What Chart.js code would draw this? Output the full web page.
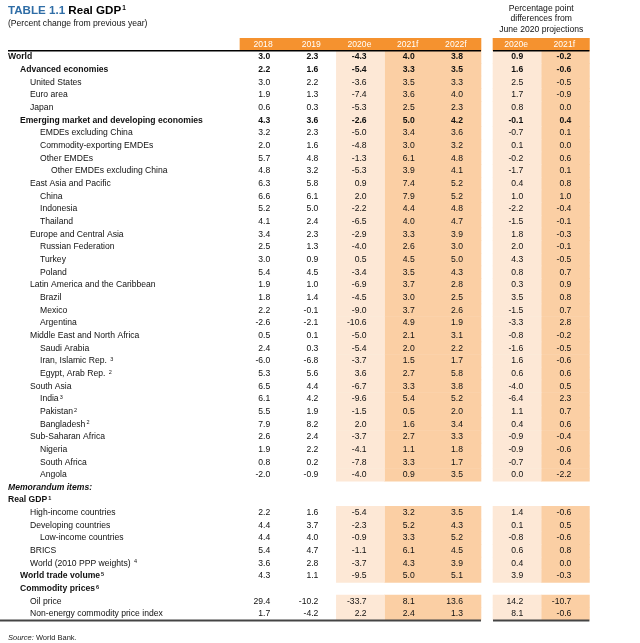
<!DOCTYPE html>
<html>
<head>
<meta charset="utf-8">
<script src="https://cdn.jsdelivr.net/npm/chart.js@4"></script>
<style>
  html, body { margin: 0; padding: 0; background: #fff; }
  #wrap { position: relative; width: 640px; height: 643px; }
</style>
</head>
<body>
<div id="wrap"><canvas id="grafico"></canvas></div>
<script>
// Row labels of the table
const labels = [
  'World', 'Advanced economies', 'United States', 'Euro area', 'Japan',
  'Emerging market and developing economies', 'EMDEs excluding China', 'Commodity-exporting EMDEs',
  'Other EMDEs', 'Other EMDEs excluding China', 'East Asia and Pacific', 'China', 'Indonesia', 'Thailand',
  'Europe and Central Asia', 'Russian Federation', 'Turkey', 'Poland',
  'Latin America and the Caribbean', 'Brazil', 'Mexico', 'Argentina',
  'Middle East and North Africa', 'Saudi Arabia', 'Iran, Islamic Rep. ', 'Egypt, Arab Rep. ',
  'South Asia', 'India', 'Pakistan', 'Bangladesh',
  'Sub-Saharan Africa', 'Nigeria', 'South Africa', 'Angola',
  'Memorandum items:', 'Real GDP', 'High-income countries', 'Developing countries', 'Low-income countries',
  'BRICS', 'World (2010 PPP weights) ', 'World trade volume', 'Commodity prices', 'Oil price',
  'Non-energy commodity price index'
];
// footnote numbers after the label
const notes = [
  '', '', '', '', '', '', '', '', '', '', '', '', '', '', '', '', '', '', '', '', '', '', '', '',
  '3', '2', '', '3', '2', '2', '', '', '', '', '', '1', '', '', '', '', '4', '5', '6', '', ''
];
// indent level of each row
const levels = [
  0, 1, 2, 2, 2, 1, 3, 3, 3, 4, 2, 3, 3, 3, 2, 3, 3, 3, 2, 3, 3, 3, 2, 3, 3, 3,
  2, 3, 3, 3, 2, 3, 3, 3, 0, 0, 2, 2, 3, 2, 2, 1, 1, 2, 2
];
// b = bold, bi = bold italic
const weights = labels.map((l, i) => (i === 34 ? 'bi' : [0, 1, 5, 35, 41, 42].includes(i) ? 'b' : ''));
const boldValues = [0, 1, 5];

const columns = ['2018', '2019', '2020e', '2021f', '2022f', '2020e', '2021f'];

const v2018 = [3.0, 2.2, 3.0, 1.9, 0.6, 4.3, 3.2, 2.0, 5.7, 4.8, 6.3, 6.6, 5.2, 4.1, 3.4, 2.5, 3.0, 5.4, 1.9, 1.8, 2.2, -2.6, 0.5, 2.4, -6.0, 5.3, 6.5, 6.1, 5.5, 7.9, 2.6, 1.9, 0.8, -2.0, null, null, 2.2, 4.4, 4.4, 5.4, 3.6, 4.3, null, 29.4, 1.7];
const v2019 = [2.3, 1.6, 2.2, 1.3, 0.3, 3.6, 2.3, 1.6, 4.8, 3.2, 5.8, 6.1, 5.0, 2.4, 2.3, 1.3, 0.9, 4.5, 1.0, 1.4, -0.1, -2.1, 0.1, 0.3, -6.8, 5.6, 4.4, 4.2, 1.9, 8.2, 2.4, 2.2, 0.2, -0.9, null, null, 1.6, 3.7, 4.0, 4.7, 2.8, 1.1, null, -10.2, -4.2];
const v2020e = [-4.3, -5.4, -3.6, -7.4, -5.3, -2.6, -5.0, -4.8, -1.3, -5.3, 0.9, 2.0, -2.2, -6.5, -2.9, -4.0, 0.5, -3.4, -6.9, -4.5, -9.0, -10.6, -5.0, -5.4, -3.7, 3.6, -6.7, -9.6, -1.5, 2.0, -3.7, -4.1, -7.8, -4.0, null, null, -5.4, -2.3, -0.9, -1.1, -3.7, -9.5, null, -33.7, 2.2];
const v2021f = [4.0, 3.3, 3.5, 3.6, 2.5, 5.0, 3.4, 3.0, 6.1, 3.9, 7.4, 7.9, 4.4, 4.0, 3.3, 2.6, 4.5, 3.5, 3.7, 3.0, 3.7, 4.9, 2.1, 2.0, 1.5, 2.7, 3.3, 5.4, 0.5, 1.6, 2.7, 1.1, 3.3, 0.9, null, null, 3.2, 5.2, 3.3, 6.1, 4.3, 5.0, null, 8.1, 2.4];
const v2022f = [3.8, 3.5, 3.3, 4.0, 2.3, 4.2, 3.6, 3.2, 4.8, 4.1, 5.2, 5.2, 4.8, 4.7, 3.9, 3.0, 5.0, 4.3, 2.8, 2.5, 2.6, 1.9, 3.1, 2.2, 1.7, 5.8, 3.8, 5.2, 2.0, 3.4, 3.3, 1.8, 1.7, 3.5, null, null, 3.5, 4.3, 5.2, 4.5, 3.9, 5.1, null, 13.6, 1.3];
const d2020e = [0.9, 1.6, 2.5, 1.7, 0.8, -0.1, -0.7, 0.1, -0.2, -1.7, 0.4, 1.0, -2.2, -1.5, 1.8, 2.0, 4.3, 0.8, 0.3, 3.5, -1.5, -3.3, -0.8, -1.6, 1.6, 0.6, -4.0, -6.4, 1.1, 0.4, -0.9, -0.9, -0.7, 0.0, null, null, 1.4, 0.1, -0.8, 0.6, 0.4, 3.9, null, 14.2, 8.1];
const d2021f = [-0.2, -0.6, -0.5, -0.9, 0.0, 0.4, 0.1, 0.0, 0.6, 0.1, 0.8, 1.0, -0.4, -0.1, -0.3, -0.1, -0.5, 0.7, 0.9, 0.8, 0.7, 2.8, -0.2, -0.5, -0.6, 0.6, 0.5, 2.3, 0.7, 0.6, -0.4, -0.6, 0.4, -2.2, null, null, -0.6, 0.5, -0.6, 0.8, 0.0, -0.3, null, -10.7, -0.6];

const series = [v2018, v2019, v2020e, v2021f, v2022f, d2020e, d2021f];

// column layout in x-scale units (one unit = one column)
const colStart = [0, 1, 2, 3, 4, 5.25, 6.25];
const xMin = -4.98, xMax = 8.3;
const indentPx = [0, 12, 22, 32, 43];

const FONT = '"Liberation Sans", Arial, sans-serif';
const SIZE = '8.6px ';
const ORANGE = '#f5922f';
const LIGHT = '#fde8d6';
const DARK = '#fbcfa4';

// first category is the header row
const cats = ['header'].concat(labels);
const hasData = i => v2020e[i] !== null;
function band(range, header) {
  return cats.map((c, j) => (j === 0 ? (header ? range : null) : (!header && hasData(j - 1) ? range : null)));
}
function ds(data, color) {
  return { data, backgroundColor: color, grouped: false, barPercentage: 1, categoryPercentage: 1, borderWidth: 0 };
}

const tableText = {
  id: 'tableText',
  afterDatasetsDraw(chart) {
    const { ctx, scales: { x, y } } = chart;
    ctx.save();
    ctx.textBaseline = 'middle';

    // title
    ctx.textAlign = 'left';
    ctx.font = 'bold 11.6px ' + FONT;
    ctx.fillStyle = '#2f6da6';
    ctx.fillText('TABLE 1.1 ', 8, 11);
    let tx = 8 + ctx.measureText('TABLE 1.1 ').width;
    ctx.fillStyle = '#000';
    ctx.fillText('Real GDP', tx, 11);
    tx += ctx.measureText('Real GDP').width + 1;
    ctx.font = 'bold 6.5px ' + FONT;
    ctx.fillText('1', tx, 8.5);
    ctx.font = SIZE + FONT;
    ctx.fillStyle = '#111';
    ctx.fillText('(Percent change from previous year)', 8, 24);

    // right header
    ctx.textAlign = 'center';
    const rc = x.getPixelForValue(colStart[5] + 1);
    ['Percentage point', 'differences from', 'June 2020 projections'].forEach((t, k) => {
      ctx.fillText(t, rc, 8.5 + k * 10.5);
    });

    // column headers
    ctx.fillStyle = '#fff';
    ctx.font = SIZE + FONT;
    columns.forEach((t, k) => ctx.fillText(t, x.getPixelForValue(colStart[k] + 0.5) - 1, y.getPixelForValue(0)));

    // rows
    labels.forEach((lab, i) => {
      const py = y.getPixelForValue(i + 1);
      const px = 8 + indentPx[levels[i]];
      const w = weights[i];
      ctx.textAlign = 'left';
      ctx.fillStyle = '#111';
      ctx.font = (w === 'bi' ? 'italic bold ' : w === 'b' ? 'bold ' : '') + SIZE + FONT;
      ctx.fillText(lab, px, py);
      if (notes[i]) {
        const nx = px + ctx.measureText(lab).width + 1;
        ctx.font = (w ? 'bold ' : '') + '5.5px ' + FONT;
        ctx.fillText(notes[i], nx, py - 1.5);
      }
      ctx.textAlign = 'right';
      ctx.font = (boldValues.includes(i) ? 'bold ' : '') + SIZE + FONT;
      series.forEach((s, k) => {
        if (s[i] === null) return;
        ctx.fillText(s[i].toFixed(1), x.getPixelForValue(colStart[k] + 1) - 18, py);
      });
    });

    // rules
    const leftEnd = x.getPixelForValue(5), rightStart = x.getPixelForValue(colStart[5]), rightEnd = x.getPixelForValue(colStart[6] + 1);
    ctx.strokeStyle = '#000';
    ctx.lineWidth = 1.5;
    const yTop = y.getPixelForValue(0.5);
    ctx.beginPath();
    ctx.moveTo(8, yTop); ctx.lineTo(leftEnd, yTop);
    ctx.moveTo(rightStart, yTop); ctx.lineTo(rightEnd, yTop);
    ctx.stroke();
    const yBot = y.getPixelForValue(labels.length + 0.5);
    ctx.strokeStyle = '#444';
    ctx.lineWidth = 2;
    ctx.beginPath();
    ctx.moveTo(0, yBot); ctx.lineTo(leftEnd, yBot);
    ctx.moveTo(rightStart, yBot); ctx.lineTo(rightEnd, yBot);
    ctx.stroke();

    // source
    ctx.textAlign = 'left';
    ctx.fillStyle = '#222';
    ctx.font = 'italic 7.5px ' + FONT;
    ctx.fillText('Source:', 8, 638);
    const sx = 8 + ctx.measureText('Source: ').width;
    ctx.font = '7.5px ' + FONT;
    ctx.fillText('World Bank.', sx, 638);
    ctx.restore();
  }
};

const ctx = document.getElementById('grafico').getContext('2d');
const chart = new Chart(ctx, {
  type: 'bar',
  data: {
    labels: cats,
    datasets: [
      ds(band([0, 5], true), ORANGE),
      ds(band([colStart[5], colStart[6] + 1], true), ORANGE),
      ds(band([2, 3], false), LIGHT),
      ds(band([3, 5], false), DARK),
      ds(band([colStart[5], colStart[6]], false), LIGHT),
      ds(band([colStart[6], colStart[6] + 1], false), DARK)
    ]
  },
  options: {
    indexAxis: 'y',
    responsive: true,
    maintainAspectRatio: false,
    animation: false,
    layout: { padding: { top: 38, bottom: 22.6, left: 0, right: 0 } },
    plugins: { legend: { display: false }, tooltip: { enabled: false } },
    scales: {
      x: { type: 'linear', min: xMin, max: xMax, display: false },
      y: { type: 'category', display: false, offset: true }
    }
  },
  plugins: [tableText]
});
</script>
</body>
</html>
